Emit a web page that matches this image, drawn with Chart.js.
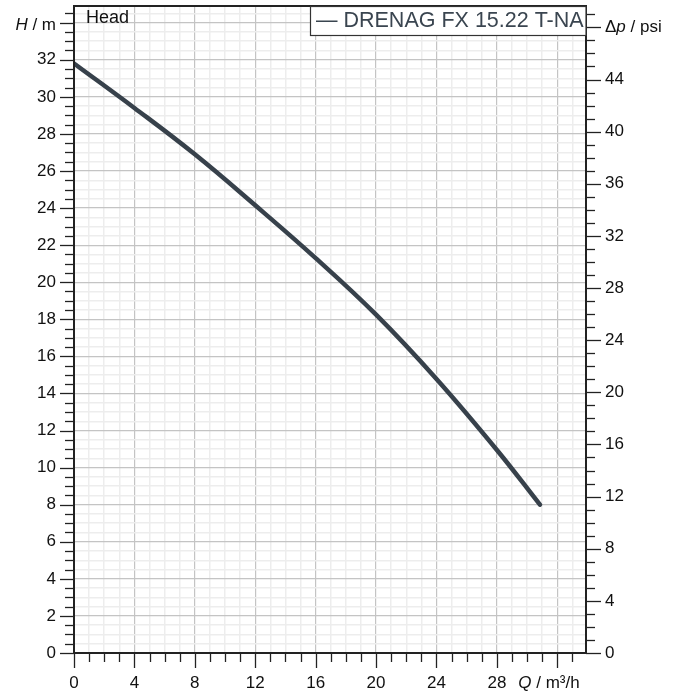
<!DOCTYPE html>
<html><head><meta charset="utf-8">
<script src="https://cdn.jsdelivr.net/npm/chart.js@4"></script>
<style>html,body{margin:0;padding:0;background:#fff}#c{display:block}</style>
</head><body>
<canvas id="c" width="677" height="695"></canvas>
<script>
// ---- data ----
const flowQ = [0, 4, 8, 12, 16, 20, 24, 28, 30.85];
const headH = [31.8, 29.4, 26.9, 24.15, 21.3, 18.25, 14.78, 10.95, 8.0];
const xTickLabels = [0, 4, 8, 12, 16, 20, 24, 28];
const yTickLabels = [0, 2, 4, 6, 8, 10, 12, 14, 16, 18, 20, 22, 24, 26, 28, 30, 32];
const psiTickLabels = [0, 4, 8, 12, 16, 20, 24, 28, 32, 36, 40, 44];
const seriesName = 'DRENAG FX 15.22 T-NA';
const curveTitle = 'Head';
const M_TO_PSI = 1.42233;
const Y_MAX = 34.9;
const X_MAX = 33.9;

const FONT = '"Liberation Sans", Arial, Helvetica, sans-serif';
const LINE_COLOR = '#37414b';

const decor = {
  id: 'decor',
  afterDraw(chart) {
    const { ctx, chartArea: a, scales } = chart;
    const x = scales.x, y = scales.y, y2 = scales.y2;
    ctx.save();
    ctx.strokeStyle = '#222';
    ctx.lineWidth = 1.3;
    const seg = (x1, y1, x2, y2_) => { ctx.beginPath(); ctx.moveTo(x1, y1); ctx.lineTo(x2, y2_); ctx.stroke(); };
    x.ticks.forEach(t => {
      const px = Math.round(x.getPixelForValue(t.value)) + 0.5;
      const major = Math.abs(t.value % 4) < 1e-6;
      seg(px, a.bottom, px, a.bottom + (major ? 15 : 9));
    });
    y.ticks.forEach(t => {
      const py = Math.round(y.getPixelForValue(t.value)) + 0.5;
      const major = Math.abs(t.value % 2) < 1e-6;
      seg(a.left, py, a.left - (major ? 14 : 9), py);
    });
    y2.ticks.forEach(t => {
      const py = Math.round(y2.getPixelForValue(t.value)) + 0.5;
      const major = Math.abs(t.value % 4) < 1e-6;
      seg(a.right, py, a.right + (major ? 15 : 9), py);
    });
    ctx.lineWidth = 2;
    ctx.strokeStyle = '#222';
    ctx.strokeRect(a.left, a.top, a.right - a.left, a.bottom - a.top);

    const mixed = (parts, xPos, yPos, align) => {
      ctx.textBaseline = 'middle';
      ctx.textAlign = 'left';
      let total = 0;
      parts.forEach(p => { ctx.font = (p[1] ? 'italic ' : '') + '17px ' + FONT; total += ctx.measureText(p[0]).width; });
      let cx = align === 'right' ? xPos - total : xPos;
      parts.forEach(p => { ctx.font = (p[1] ? 'italic ' : '') + '17px ' + FONT; ctx.fillText(p[0], cx, yPos); cx += ctx.measureText(p[0]).width; });
    };
    ctx.fillStyle = '#111';
    mixed([['H', true], [' / m', false]], a.left - 18, y.getPixelForValue(34) + 3, 'right');
    mixed([['\u0394', false], ['p', true], [' / psi', false]], a.right + 19, y2.getPixelForValue(48), 'left');
    mixed([['Q', true], [' / m\u00b3/h', false]], x.getPixelForValue(32) - 39, a.bottom + 30, 'left');

    ctx.font = '18px ' + FONT;
    ctx.textAlign = 'left';
    ctx.textBaseline = 'alphabetic';
    ctx.fillText(curveTitle, a.left + 12, a.top + 17);

    ctx.font = '21.5px ' + FONT;
    const txt = '\u2014 ' + seriesName;
    const w = ctx.measureText(txt).width;
    const bx = Math.round(a.right - w - 8), by = a.top, bh = 29;
    ctx.fillStyle = '#fff';
    ctx.fillRect(bx, by, a.right - bx, bh);
    ctx.lineWidth = 1.2;
    ctx.strokeStyle = '#333';
    ctx.strokeRect(bx + 0.5, by + 0.5, a.right - bx - 0.5, bh);
    ctx.fillStyle = '#3a4550';
    ctx.textBaseline = 'middle';
    ctx.fillText(txt, bx + 6, by + bh / 2 + 1);
    ctx.restore();
  }
};

const fitPad = s => { s.paddingTop = 0; s.paddingBottom = 0; s.paddingLeft = 0; s.paddingRight = 0; };

new Chart(document.getElementById('c'), {
  type: 'line',
  data: {
    datasets: [{
      label: seriesName,
      data: flowQ.map((q, i) => ({ x: q, y: headH[i] })),
      borderColor: LINE_COLOR,
      borderWidth: 4.5,
      borderCapStyle: 'round',
      borderJoinStyle: 'round',
      pointRadius: 0,
      tension: 0.4,
      yAxisID: 'y'
    }]
  },
  options: {
    responsive: false,
    animation: false,
    devicePixelRatio: 1,
    layout: { padding: { top: 6, left: 0, right: 0, bottom: 0 } },
    plugins: { legend: { display: false }, tooltip: { enabled: false } },
    scales: {
      x: {
        type: 'linear', min: 0, max: X_MAX,
        afterFit: s => { s.height = 42; fitPad(s); },
        border: { display: false },
        grid: {
          drawTicks: false,
          color: c => (Math.abs(c.tick.value % 4) < 1e-6 ? '#c4c4c4' : '#ededed'),
          lineWidth: c => (Math.abs(c.tick.value % 4) < 1e-6 ? 1.2 : 1.5)
        },
        ticks: {
          stepSize: 1, includeBounds: false, autoSkip: false, maxRotation: 0, padding: 20,
          color: '#111', font: { family: FONT, size: 17 },
          callback: v => (xTickLabels.includes(v) ? String(v) : '')
        }
      },
      y: {
        type: 'linear', position: 'left', min: 0, max: Y_MAX,
        afterFit: s => { s.width = 74; fitPad(s); },
        border: { display: false },
        grid: {
          drawTicks: false,
          color: c => (Math.abs(c.tick.value % 2) < 1e-6 ? '#c4c4c4' : '#ededed'),
          lineWidth: c => (Math.abs(c.tick.value % 2) < 1e-6 ? 1.2 : 1.5)
        },
        ticks: {
          stepSize: 0.5, includeBounds: false, autoSkip: false, padding: 18,
          color: '#111', font: { family: FONT, size: 17 },
          callback: v => (yTickLabels.includes(v) ? String(v) : '')
        }
      },
      y2: {
        type: 'linear', position: 'right', min: 0, max: Y_MAX * M_TO_PSI,
        afterFit: s => { s.width = 91; fitPad(s); },
        border: { display: false },
        grid: { display: false, drawTicks: false },
        ticks: {
          stepSize: 1, includeBounds: false, autoSkip: false, padding: 19,
          color: '#111', font: { family: FONT, size: 17 },
          callback: v => (psiTickLabels.includes(v) ? String(v) : '')
        }
      }
    }
  },
  plugins: [decor]
});
</script>
</body></html>
